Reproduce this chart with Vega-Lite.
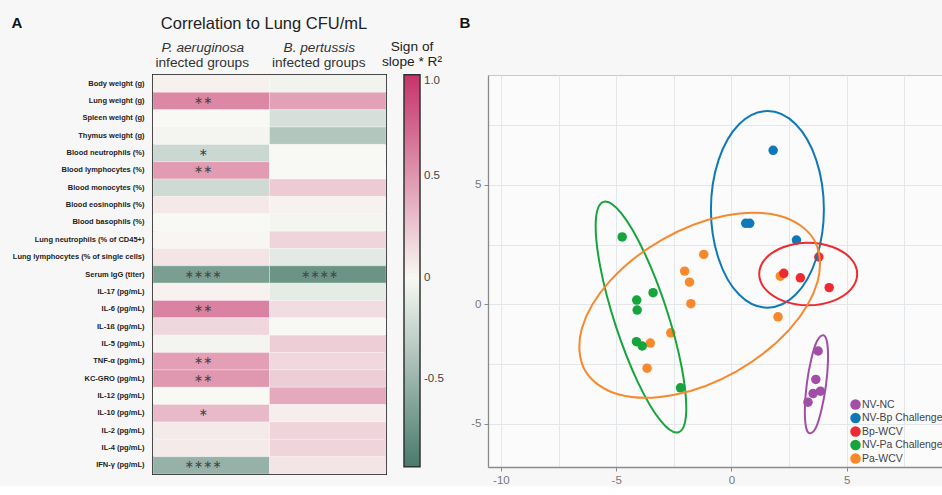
{
  "$schema": "https://vega.github.io/schema/vega-lite/v6.json",
  "background": "#f7f7f7",
  "padding": {"left": 10, "top": 14, "right": 0, "bottom": 0},
  "spacing": 13,
  "config": {"font": "Liberation Sans", "view": {"stroke": null}},
  "datasets": {
    "heat": [
      {"var": "Body weight (g)", "grp": "Pa", "v": 0.04, "sig": ""},
      {"var": "Body weight (g)", "grp": "Bp", "v": -0.04, "sig": ""},
      {"var": "Lung weight (g)", "grp": "Pa", "v": 0.57, "sig": "∗∗"},
      {"var": "Lung weight (g)", "grp": "Bp", "v": 0.44, "sig": ""},
      {"var": "Spleen weight (g)", "grp": "Pa", "v": 0.0, "sig": ""},
      {"var": "Spleen weight (g)", "grp": "Bp", "v": -0.18, "sig": ""},
      {"var": "Thymus weight (g)", "grp": "Pa", "v": -0.02, "sig": ""},
      {"var": "Thymus weight (g)", "grp": "Bp", "v": -0.37, "sig": ""},
      {"var": "Blood neutrophils (%)", "grp": "Pa", "v": -0.24, "sig": "∗"},
      {"var": "Blood neutrophils (%)", "grp": "Bp", "v": 0.0, "sig": ""},
      {"var": "Blood lymphocytes (%)", "grp": "Pa", "v": 0.47, "sig": "∗∗"},
      {"var": "Blood lymphocytes (%)", "grp": "Bp", "v": 0.0, "sig": ""},
      {"var": "Blood monocytes (%)", "grp": "Pa", "v": -0.22, "sig": ""},
      {"var": "Blood monocytes (%)", "grp": "Bp", "v": 0.23, "sig": ""},
      {"var": "Blood eosinophils (%)", "grp": "Pa", "v": 0.08, "sig": ""},
      {"var": "Blood eosinophils (%)", "grp": "Bp", "v": 0.03, "sig": ""},
      {"var": "Blood basophils (%)", "grp": "Pa", "v": 0.0, "sig": ""},
      {"var": "Blood basophils (%)", "grp": "Bp", "v": -0.02, "sig": ""},
      {"var": "Lung neutrophils (% of CD45+)", "grp": "Pa", "v": 0.01, "sig": ""},
      {"var": "Lung neutrophils (% of CD45+)", "grp": "Bp", "v": 0.18, "sig": ""},
      {"var": "Lung lymphocytes (% of single cells)", "grp": "Pa", "v": 0.1, "sig": ""},
      {"var": "Lung lymphocytes (% of single cells)", "grp": "Bp", "v": -0.11, "sig": ""},
      {"var": "Serum IgG (titer)", "grp": "Pa", "v": -0.67, "sig": "∗∗∗∗"},
      {"var": "Serum IgG (titer)", "grp": "Bp", "v": -0.75, "sig": "∗∗∗∗"},
      {"var": "IL-17 (pg/mL)", "grp": "Pa", "v": 0.03, "sig": ""},
      {"var": "IL-17 (pg/mL)", "grp": "Bp", "v": -0.1, "sig": ""},
      {"var": "IL-6 (pg/mL)", "grp": "Pa", "v": 0.6, "sig": "∗∗"},
      {"var": "IL-6 (pg/mL)", "grp": "Bp", "v": 0.14, "sig": ""},
      {"var": "IL-1ß (pg/mL)", "grp": "Pa", "v": 0.17, "sig": ""},
      {"var": "IL-1ß (pg/mL)", "grp": "Bp", "v": 0.0, "sig": ""},
      {"var": "IL-5 (pg/mL)", "grp": "Pa", "v": -0.02, "sig": ""},
      {"var": "IL-5 (pg/mL)", "grp": "Bp", "v": 0.22, "sig": ""},
      {"var": "TNF-α (pg/mL)", "grp": "Pa", "v": 0.45, "sig": "∗∗"},
      {"var": "TNF-α (pg/mL)", "grp": "Bp", "v": 0.16, "sig": ""},
      {"var": "KC-GRO (pg/mL)", "grp": "Pa", "v": 0.49, "sig": "∗∗"},
      {"var": "KC-GRO (pg/mL)", "grp": "Bp", "v": 0.22, "sig": ""},
      {"var": "IL-12 (pg/mL)", "grp": "Pa", "v": 0.0, "sig": ""},
      {"var": "IL-12 (pg/mL)", "grp": "Bp", "v": 0.4, "sig": ""},
      {"var": "IL-10 (pg/mL)", "grp": "Pa", "v": 0.32, "sig": "∗"},
      {"var": "IL-10 (pg/mL)", "grp": "Bp", "v": 0.05, "sig": ""},
      {"var": "IL-2 (pg/mL)", "grp": "Pa", "v": 0.07, "sig": ""},
      {"var": "IL-2 (pg/mL)", "grp": "Bp", "v": 0.18, "sig": ""},
      {"var": "IL-4 (pg/mL)", "grp": "Pa", "v": 0.07, "sig": ""},
      {"var": "IL-4 (pg/mL)", "grp": "Bp", "v": 0.18, "sig": ""},
      {"var": "IFN-γ (pg/mL)", "grp": "Pa", "v": -0.52, "sig": "∗∗∗∗"},
      {"var": "IFN-γ (pg/mL)", "grp": "Bp", "v": 0.1, "sig": ""}
    ],
    "pts": [
      {"g": "Pa-WCV", "x": -1.2, "y": 2.09},
      {"g": "Pa-WCV", "x": -2.03, "y": 1.39},
      {"g": "Pa-WCV", "x": -1.82, "y": 0.93},
      {"g": "Pa-WCV", "x": -1.76, "y": 0.03},
      {"g": "Pa-WCV", "x": -2.63, "y": -1.19},
      {"g": "Pa-WCV", "x": -3.52, "y": -1.62},
      {"g": "Pa-WCV", "x": -3.66, "y": -2.67},
      {"g": "Pa-WCV", "x": 2.02, "y": -0.52},
      {"g": "Pa-WCV", "x": 2.12, "y": 1.18},
      {"g": "NV-Pa Challenge", "x": -4.74, "y": 2.82},
      {"g": "NV-Pa Challenge", "x": -3.4, "y": 0.49},
      {"g": "NV-Pa Challenge", "x": -4.11, "y": 0.18},
      {"g": "NV-Pa Challenge", "x": -4.09, "y": -0.24},
      {"g": "NV-Pa Challenge", "x": -4.12, "y": -1.56},
      {"g": "NV-Pa Challenge", "x": -3.87, "y": -1.74},
      {"g": "NV-Pa Challenge", "x": -2.21, "y": -3.49},
      {"g": "NV-NC", "x": 3.76, "y": -1.95},
      {"g": "NV-NC", "x": 3.66, "y": -3.14},
      {"g": "NV-NC", "x": 3.86, "y": -3.63},
      {"g": "NV-NC", "x": 3.54, "y": -3.73},
      {"g": "NV-NC", "x": 3.32, "y": -4.09},
      {"g": "NV-Bp Challenge", "x": 1.81, "y": 6.44},
      {"g": "NV-Bp Challenge", "x": 0.62, "y": 3.39},
      {"g": "NV-Bp Challenge", "x": 0.79, "y": 3.39},
      {"g": "NV-Bp Challenge", "x": 2.82, "y": 2.69},
      {"g": "Bp-WCV", "x": 3.79, "y": 1.98},
      {"g": "Bp-WCV", "x": 2.27, "y": 1.3},
      {"g": "Bp-WCV", "x": 2.99, "y": 1.11},
      {"g": "Bp-WCV", "x": 4.24, "y": 0.7}
    ],
    "ell": [
      {"g": "NV-Bp Challenge", "i": 0, "x": 4.01, "y": 3.97},
      {"g": "NV-Bp Challenge", "i": 1, "x": 3.68, "y": 6.03},
      {"g": "NV-Bp Challenge", "i": 2, "x": 2.79, "y": 7.53},
      {"g": "NV-Bp Challenge", "i": 3, "x": 1.56, "y": 8.08},
      {"g": "NV-Bp Challenge", "i": 4, "x": 0.33, "y": 7.53},
      {"g": "NV-Bp Challenge", "i": 5, "x": -0.56, "y": 6.03},
      {"g": "NV-Bp Challenge", "i": 6, "x": -0.89, "y": 3.97},
      {"g": "NV-Bp Challenge", "i": 7, "x": -0.56, "y": 1.92},
      {"g": "NV-Bp Challenge", "i": 8, "x": 0.33, "y": 0.41},
      {"g": "NV-Bp Challenge", "i": 9, "x": 1.56, "y": -0.14},
      {"g": "NV-Bp Challenge", "i": 10, "x": 2.79, "y": 0.41},
      {"g": "NV-Bp Challenge", "i": 11, "x": 3.68, "y": 1.92},
      {"g": "Bp-WCV", "i": 0, "x": 5.455, "y": 1.27},
      {"g": "Bp-WCV", "i": 1, "x": 5.17, "y": 1.925},
      {"g": "Bp-WCV", "i": 2, "x": 4.39, "y": 2.4},
      {"g": "Bp-WCV", "i": 3, "x": 3.33, "y": 2.58},
      {"g": "Bp-WCV", "i": 4, "x": 2.27, "y": 2.4},
      {"g": "Bp-WCV", "i": 5, "x": 1.49, "y": 1.925},
      {"g": "Bp-WCV", "i": 6, "x": 1.205, "y": 1.27},
      {"g": "Bp-WCV", "i": 7, "x": 1.49, "y": 0.615},
      {"g": "Bp-WCV", "i": 8, "x": 2.27, "y": 0.136},
      {"g": "Bp-WCV", "i": 9, "x": 3.33, "y": -0.04},
      {"g": "Bp-WCV", "i": 10, "x": 4.39, "y": 0.136},
      {"g": "Bp-WCV", "i": 11, "x": 5.17, "y": 0.615},
      {"g": "NV-Pa Challenge", "i": 0, "x": -2.298, "y": -5.347},
      {"g": "NV-Pa Challenge", "i": 1, "x": -3.066, "y": -4.874},
      {"g": "NV-Pa Challenge", "i": 2, "x": -4.066, "y": -3.238},
      {"g": "NV-Pa Challenge", "i": 3, "x": -5.026, "y": -0.879},
      {"g": "NV-Pa Challenge", "i": 4, "x": -5.692, "y": 1.577},
      {"g": "NV-Pa Challenge", "i": 5, "x": -5.885, "y": 3.469},
      {"g": "NV-Pa Challenge", "i": 6, "x": -5.551, "y": 4.285},
      {"g": "NV-Pa Challenge", "i": 7, "x": -4.783, "y": 3.812},
      {"g": "NV-Pa Challenge", "i": 8, "x": -3.784, "y": 2.176},
      {"g": "NV-Pa Challenge", "i": 9, "x": -2.823, "y": -0.184},
      {"g": "NV-Pa Challenge", "i": 10, "x": -2.157, "y": -2.64},
      {"g": "NV-Pa Challenge", "i": 11, "x": -1.964, "y": -4.531},
      {"g": "Pa-WCV", "i": 0, "x": 3.591, "y": 2.686},
      {"g": "Pa-WCV", "i": 1, "x": 3.734, "y": 0.946},
      {"g": "Pa-WCV", "i": 2, "x": 2.509, "y": -1.056},
      {"g": "Pa-WCV", "i": 3, "x": 0.241, "y": -2.787},
      {"g": "Pa-WCV", "i": 4, "x": -2.461, "y": -3.78},
      {"g": "Pa-WCV", "i": 5, "x": -4.873, "y": -3.771},
      {"g": "Pa-WCV", "i": 6, "x": -6.349, "y": -2.762},
      {"g": "Pa-WCV", "i": 7, "x": -6.493, "y": -1.022},
      {"g": "Pa-WCV", "i": 8, "x": -5.267, "y": 0.981},
      {"g": "Pa-WCV", "i": 9, "x": -2.999, "y": 2.711},
      {"g": "Pa-WCV", "i": 10, "x": -0.297, "y": 3.705},
      {"g": "Pa-WCV", "i": 11, "x": 2.115, "y": 3.696},
      {"g": "NV-NC", "i": 0, "x": 3.382, "y": -5.385},
      {"g": "NV-NC", "i": 1, "x": 3.226, "y": -5.085},
      {"g": "NV-NC", "i": 2, "x": 3.186, "y": -4.316},
      {"g": "NV-NC", "i": 3, "x": 3.274, "y": -3.285},
      {"g": "NV-NC", "i": 4, "x": 3.469, "y": -2.266},
      {"g": "NV-NC", "i": 5, "x": 3.713, "y": -1.535},
      {"g": "NV-NC", "i": 6, "x": 3.99, "y": -1.289},
      {"g": "NV-NC", "i": 7, "x": 4.148, "y": -1.586},
      {"g": "NV-NC", "i": 8, "x": 4.188, "y": -2.355},
      {"g": "NV-NC", "i": 9, "x": 4.1, "y": -3.386},
      {"g": "NV-NC", "i": 10, "x": 3.905, "y": -4.404},
      {"g": "NV-NC", "i": 11, "x": 3.659, "y": -5.164}
    ]
  },
  "hconcat": [
    {
      "width": 233,
      "height": 399,
      "view": {"stroke": "#2a2a2a", "strokeWidth": 2},
      "data": {"name": "heat"},
      "layer": [
        {
          "mark": {"type": "rect", "stroke": "#ffffff", "strokeWidth": 0.6, "strokeOpacity": 0.5},
          "encoding": {
            "x": {
              "field": "grp", "type": "nominal", "sort": ["Pa", "Bp"],
              "scale": {"paddingInner": 0, "paddingOuter": 0},
              "axis": {"orient": "top", "title": null, "labelExpr": "'infected groups'", "labelAngle": 0,
                       "labelFontSize": 13.7, "labelColor": "#333", "ticks": false, "domain": false,
                       "labelPadding": 6, "labelOffset": -9}
            },
            "y": {
              "field": "var", "type": "nominal", "sort": null,
              "scale": {"paddingInner": 0, "paddingOuter": 0},
              "axis": {"title": "A", "titleAngle": 0, "titleX": -142, "titleY": -48, "titleAlign": "left",
                       "titleBaseline": "alphabetic", "titleFontSize": 15, "titleFontWeight": "bold",
                       "titleColor": "#111", "labelFontSize": 7.5, "labelFontWeight": "bold",
                       "labelColor": "#222", "ticks": false, "domain": false, "labelPadding": 9}
            },
            "color": {
              "field": "v", "type": "quantitative",
              "scale": {"domain": [-0.93, 0, 1], "range": ["#497b6c", "#f8f8f4", "#c6336a"], "interpolate": "rgb"},
              "legend": {
                "orient": "none", "legendX": 227, "legendY": -35, "direction": "vertical",
                "title": ["Sign of", "slope * R²"], "titleFontSize": 13.7, "titleFontWeight": "normal",
                "titleColor": "#222", "titleAnchor": "middle", "titleAlign": "center", "titleLineHeight": 15,
                "titlePadding": 6, "gradientLength": 392, "gradientThickness": 16,
                "gradientStrokeColor": "#333", "gradientStrokeWidth": 1.5,
                "values": [1, 0.5, 0, -0.5], "labelOverlap": false,
                "labelExpr": "datum.value == 1 ? '1.0' : datum.value == 0.5 ? '0.5' : datum.value == 0 ? '0' : '-0.5'",
                "labelFontSize": 11.5, "labelColor": "#444", "labelOffset": 28, "padding": 0,
                "encode": {"gradient": {"update": {"x": {"value": 24}}}}
              }
            }
          }
        },
        {
          "mark": {"type": "text", "font": "DejaVu Sans", "fontSize": 11, "color": "#444", "dx": -8},
          "encoding": {
            "x": {
              "field": "grp", "type": "nominal", "sort": ["Pa", "Bp"],
              "scale": {"paddingInner": 0, "paddingOuter": 0},
              "axis": {"orient": "top", "labelExpr": "datum.value == 'Pa' ? 'P. aeruginosa' : 'B. pertussis'",
                       "labelFontStyle": "italic", "labelAngle": 0, "labelFontSize": 13.7, "labelColor": "#333",
                       "ticks": false, "domain": false, "labelPadding": 6, "offset": 15, "labelOffset": -9,
                       "title": "Correlation to Lung CFU/mL", "titleFontSize": 16.5, "titleFontWeight": "normal",
                       "titleColor": "#222", "titleX": 110.5, "titleY": -32, "titleBaseline": "alphabetic"}
            },
            "y": {"field": "var", "type": "nominal", "sort": null},
            "text": {"field": "sig"}
          }
        }
      ],
      "resolve": {"scale": {"x": "independent"}, "axis": {"x": "independent"}}
    },
    {
      "width": 456,
      "height": 392,
      "view": {"stroke": "#c9c9c9", "strokeWidth": 1, "fill": "#fbfbfb"},
      "layer": [
        {
          "data": {"name": "pts"},
          "mark": {"type": "circle", "size": 90, "opacity": 1},
          "encoding": {
            "x": {"field": "x", "type": "quantitative",
                  "scale": {"domain": [-10.56, 9.22], "nice": false, "zero": false},
                  "axis": {"values": [-10, -7.5, -5, -2.5, 0, 2.5, 5, 7.5],
                           "labelExpr": "datum.value == -10 ? '-10' : datum.value == -5 ? '-5' : datum.value == 0 ? '0' : datum.value == 5 ? '5' : ''",
                           "title": null, "grid": true, "gridColor": "#e3e7e9", "domainColor": "#8a8a8a",
                           "domainWidth": 1.3, "tickColor": "#8a8a8a", "tickSize": 4,
                           "tickOpacity": {"condition": {"test": "datum.value % 5 == 0", "value": 1}, "value": 0},
                           "labelFontSize": 11.5, "labelColor": "#777", "labelPadding": 3}},
            "y": {"field": "y", "type": "quantitative",
                  "scale": {"domain": [-6.8, 9.59], "nice": false, "zero": false},
                  "axis": {"values": [-5, -2.5, 0, 2.5, 5, 7.5],
                           "labelExpr": "datum.value == -5 ? '-5' : datum.value == 0 ? '0' : datum.value == 5 ? '5' : ''",
                           "title": "B", "titleAngle": 0, "titleX": -29, "titleY": -48, "titleAlign": "left",
                           "titleBaseline": "alphabetic", "titleFontSize": 15, "titleFontWeight": "bold",
                           "titleColor": "#111",
                           "grid": true, "gridColor": "#e3e7e9", "domainColor": "#8a8a8a",
                           "domainWidth": 1.3, "tickColor": "#8a8a8a", "tickSize": 4,
                           "tickOpacity": {"condition": {"test": "datum.value % 5 == 0", "value": 1}, "value": 0},
                           "labelFontSize": 11.5, "labelColor": "#777", "labelPadding": 3}},
            "color": {"field": "g", "type": "nominal",
                      "scale": {"domain": ["NV-NC", "NV-Bp Challenge", "Bp-WCV", "NV-Pa Challenge", "Pa-WCV"],
                                "range": ["#a14fa6", "#0f78b8", "#ee2a30", "#16a43c", "#f8882c"]},
                      "legend": {"orient": "none", "legendX": 362, "legendY": 324, "title": null,
                                 "symbolType": "circle", "symbolSize": 110, "symbolStrokeWidth": 0,
                                 "labelFontSize": 10.5, "labelColor": "#444", "rowPadding": 2.5,
                                 "labelOffset": 1, "padding": 0, "symbolOpacity": 1}}
          }
        },
        {
          "data": {"name": "ell"},
          "mark": {"type": "line", "interpolate": "cardinal-closed", "strokeWidth": 2},
          "encoding": {
            "x": {"field": "x", "type": "quantitative"},
            "y": {"field": "y", "type": "quantitative"},
            "color": {"field": "g", "type": "nominal"},
            "detail": {"field": "g"},
            "order": {"field": "i", "type": "quantitative"}
          }
        }
      ]
    }
  ]
}
